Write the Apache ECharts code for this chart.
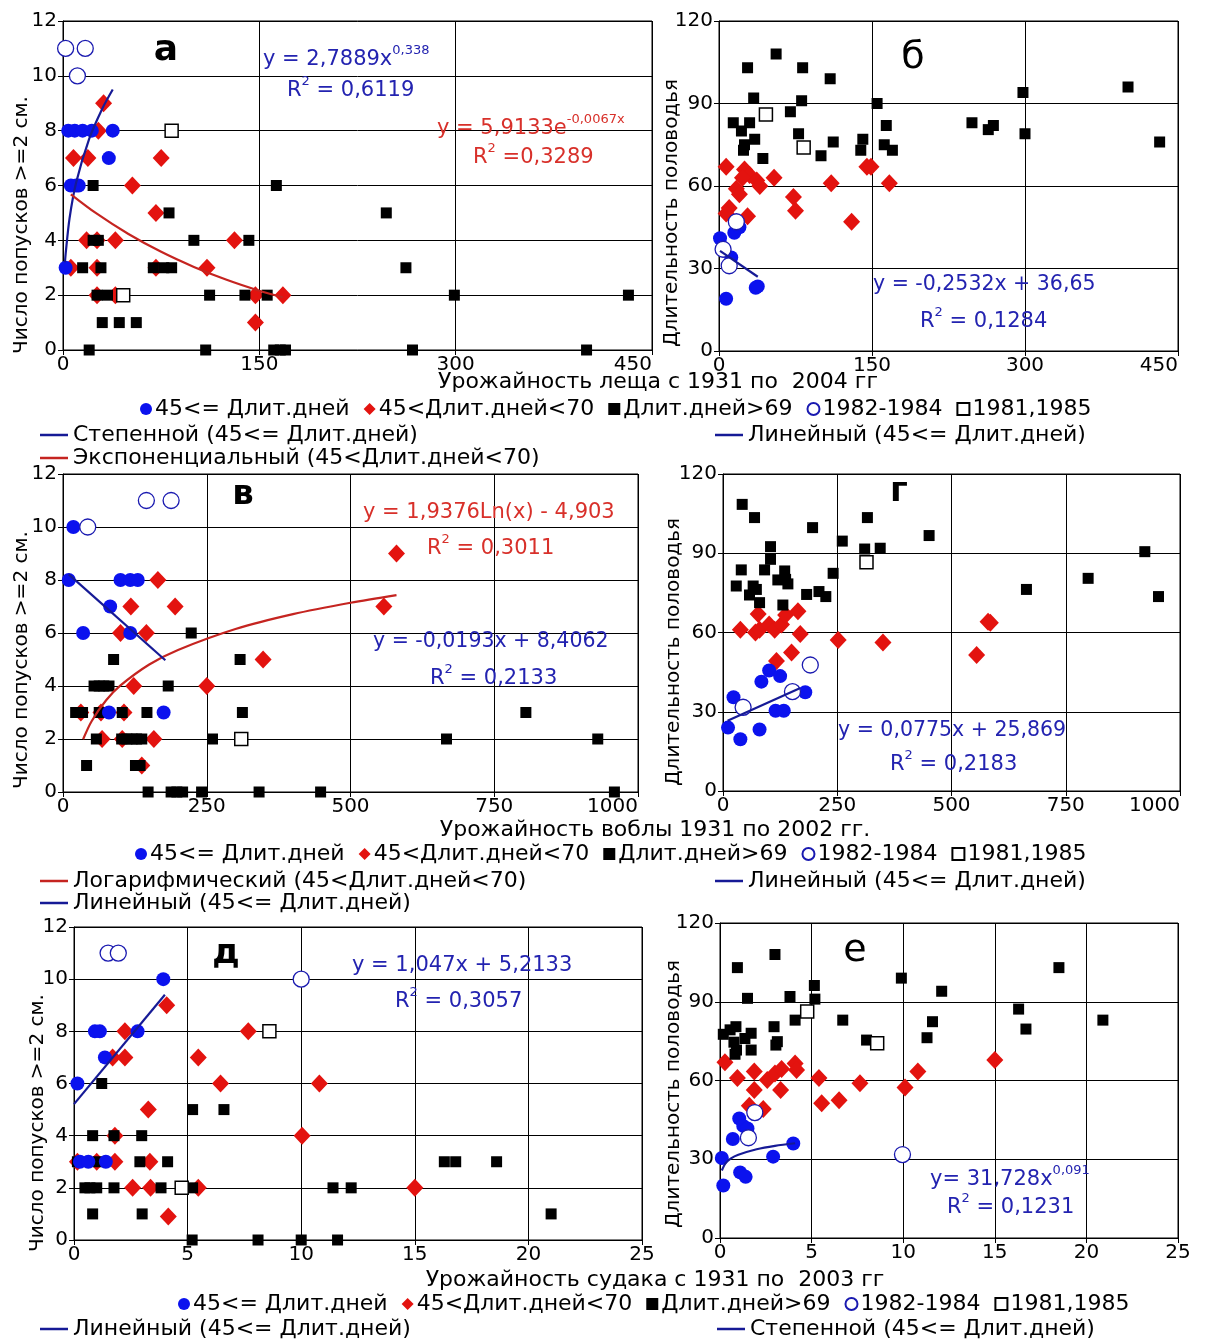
<!DOCTYPE html>
<html><head><meta charset="utf-8">
<script src="https://cdn.jsdelivr.net/npm/echarts@6/dist/echarts.min.js"></script>
<style>html,body{margin:0;padding:0;background:#fff;}#c{width:1207px;height:1342px;}</style>
</head><body><div id="c"></div><script>
// ---------- DATA ----------
// Panel а: лещ, число попусков
const a_blue = [[2,3],[4,8],[9,8],[15,8],[22,8],[38,8],[35,7],[6,6],[10,6],[12,6]];
const a_red = [[31,9],[27,8],[8,7],[19,7],[75,7],[53,6],[71,5],[18,4],[26,4],[40,4],[131,4],[6,3],[26,3],[71,3],[110,3],[26,2],[40,2],[147,2],[168,2],[147,1]];
const a_black = [[23,6],[163,6],[81,5],[247,5],[23,4],[27,4],[100,4],[142,4],[15,3],[29,3],[69,3],[77,3],[83,3],[262,3],[26,2],[34,2],[112,2],[139,2],[156,2],[299,2],[432,2],[30,1],[43,1],[56,1],[20,0],[109,0],[161,0],[166,0],[170,0],[267,0],[400,0]];
const a_open = [[2,11],[17,11],[11,10]];
const a_openSq = [[83,8],[46,2]];
const a_pow = [[1.5,3.2],[2,3.5],[5,4.8],[10,6.1],[20,7.7],[30,8.8],[38,9.5]];
const a_exp = [[6,5.68],[25,5.0],[50,4.23],[75,3.58],[100,3.03],[125,2.56],[150,2.16],[168,1.92]];
// Panel б: лещ, длительность половодья
const b_blue = [[1,41],[7,19],[12,34],[15,43],[20,45],[36,23],[38,23.5]];
const b_red = [[7,67],[25,66],[30,64],[37,62],[23,63],[17,59],[20,57],[40,60],[54,63],[73,56],[75,51],[110,61],[130,47],[145,67],[149,67],[167,61],[10,52],[7,50],[28,49]];
const b_black = [[28,103],[56,108],[82,103],[109,99],[34,92],[81,91],[70,87],[155,90],[14,83],[30,83],[164,82],[248,83],[264,80.5],[269,82],[298,94],[300,79],[401,96],[432,76],[22,80],[78,79],[35,77],[25,75],[24,73],[43,70],[112,76],[100,71],[141,77],[139,73],[162,75],[170,73]];
const b_open = [[17,47],[4,37],[10,31]];
const b_openSq = [[46,86],[83,74]];
const b_lin = [[1,36.4],[38,27.0]];
// Panel в: вобла, число попусков
const v_blue = [[18,10],[10,8],[100,8],[117,8],[130,8],[82,7],[35,6],[117,6],[80,3],[175,3]];
const v_red = [[580,9],[165,8],[118,7],[195,7],[558,7],[100,6],[145,6],[348,5],[123,4],[250,4],[31,3],[66,3],[106,3],[68,2],[103,2],[158,2],[137,1]];
const v_black = [[223,6],[88,5],[308,5],[54,4],[63,4],[71,4],[80,4],[183,4],[22,3],[34,3],[63,3],[103,3],[146,3],[312,3],[805,3],[58,2],[102,2],[111,2],[120,2],[128,2],[137,2],[260,2],[667,2],[930,2],[41,1],[126,1],[134,1],[148,0],[188,0],[198,0],[208,0],[241,0],[341,0],[448,0],[959,0]];
const v_open = [[43,10],[145,11],[188,11]];
const v_openSq = [[310,2]];
const v_log = [[35,1.99],[50,2.68],[75,3.46],[100,4.02],[150,4.81],[200,5.36],[300,6.15],[400,6.71],[500,7.14],[580,7.43]];
const v_lin = [[10,8.21],[178,4.97]];
// Panel г: вобла, длительность половодья
const g_blue = [[23,35.5],[11,24],[38,19.6],[80,23.3],[84,41.4],[101,45.6],[125,43.5],[115,30.4],[133,30.4],[180,37.4]];
const g_red = [[38,61],[77,67],[71,60],[80,61],[101,63],[113,61],[128,63],[137,66.6],[164,68],[169,59.4],[150,52.4],[117,49.2],[252,57.2],[350,56.2],[555,51.5],[580,64.1],[585,63.7]];
const g_black = [[42,108.5],[69,103.5],[196,99.7],[316,103.5],[261,94.6],[451,96.7],[104,92.5],[310,91.6],[344,91.9],[104,87.7],[40,83.7],[91,83.7],[135,83.3],[241,82.4],[29,77.6],[66,77.6],[73,76.3],[137,80.1],[142,78.4],[120,79.9],[58,74.2],[80,71.3],[131,70.4],[183,74.4],[210,75.5],[225,73.6],[664,76.3],[799,80.5],[923,90.6],[953,73.6]];
const g_open = [[44,31.7],[152,37.6],[191,47.7]];
const g_openSq = [[314,86.6]];
const g_lin = [[10,26.6],[168,38.9]];
// Panel д: судак, число попусков
const d_blue = [[3.93,10],[0.92,8],[1.14,8],[2.8,8],[1.36,7],[0.15,6],[0.26,3],[0.63,3],[1.4,3]];
const d_red = [[4.08,9],[2.24,8],[7.67,8],[1.7,7],[2.24,7],[5.47,7],[6.45,6],[10.8,6],[3.27,5],[1.8,4],[10.04,4],[0.15,3],[1.0,3],[1.8,3],[3.34,3],[2.58,2],[3.37,2],[5.47,2],[15,2],[4.15,0.9]];
const d_black = [[1.22,6],[5.22,5],[6.6,5],[0.82,4],[1.76,4],[2.98,4],[0.15,3],[1.07,3],[2.9,3],[4.12,3],[16.3,3],[16.8,3],[18.6,3],[0.48,2],[0.7,2],[1.0,2],[1.76,2],[3.83,2],[5.22,2],[11.4,2],[12.2,2],[0.82,1],[3.0,1],[21,1],[5.2,0],[8.1,0],[10,0],[11.6,0]];
const d_open = [[1.5,11],[1.95,11],[10,10]];
const d_openSq = [[8.6,8],[4.74,2]];
const d_lin = [[0,5.21],[4,9.4]];
// Panel е: судак, длительность половодья
const e_blue = [[0.18,20],[0.1,30.5],[0.7,37.7],[1.05,45.5],[1.27,42.7],[1.5,41.7],[1.1,25],[1.4,23.3],[2.9,31],[4,36]];
const e_red = [[0.27,67],[0.95,61],[1.87,63.4],[1.87,56.4],[2.58,60.2],[3,62.7],[3.36,64.4],[3.31,56.4],[4.1,66.5],[4.18,64],[5.4,61],[5.55,51.3],[6.5,52.5],[7.64,59],[10.1,57.3],[10.8,63.4],[15,67.8],[1.6,50.4],[2.36,49.1]];
const e_black = [[0.95,103],[3,108],[1.5,91.3],[3.82,92],[5.15,96.2],[5.18,91],[9.9,99],[12.1,94],[18.5,103],[16.3,87.2],[16.7,79.6],[20.9,83],[6.7,83],[4.1,83],[2.95,80.5],[11.6,82.4],[11.3,76.3],[8,75.4],[0.18,77.6],[0.55,79.3],[0.87,80.5],[0.76,74.6],[0.9,71.6],[0.82,70],[1.36,76],[1.7,78],[1.7,71.6],[3.05,73.5],[3.13,74.8]];
const e_open = [[1.9,47.8],[1.55,38.2],[9.96,31.8]];
const e_openSq = [[4.76,86.3],[8.58,74.2]];
const e_pow = [[0.1,25.7],[0.3,28.4],[0.6,30.3],[1,31.7],[2,33.8],[3,35.1],[4.1,36.1]];

// axis ranges / ticks
const xMax = [450,450,1000,1000,25,25];
const xInterval = [150,150,250,250,5,5];
const yMax = [12,120,12,120,12,120];
const yInterval = [2,30,2,30,2,30];
const yNames = ['Число попусков >=2 см.','Длительность половодья','Число попусков >=2 см.','Длительность половодья','Число попусков >=2 см.','Длительность половодья'];

// ---------- STYLE ----------
const FONT = "'DejaVu Sans', 'Liberation Sans', Arial, sans-serif";
const BLUE='#0b12ee', RED='#e3130f', NAVY='#161a96', TRED='#c52420', EQB='#2323b0', EQR='#d8302a';
const N_BLUE='45<= Длит.дней', N_RED='45<Длит.дней<70', N_BLACK='Длит.дней>69', N_OPEN='1982-1984', N_OSQ='1981,1985';
const N_POW='Степенной (45<= Длит.дней)', N_LIN='Линейный (45<= Длит.дней)', N_EXP='Экспоненциальный (45<Длит.дней<70)', N_LOG='Логарифмический (45<Длит.дней<70)';

const panels = [
  {blue:a_blue, red:a_red, black:a_black, open:a_open, osq:a_openSq, lines:[[N_POW,a_pow,NAVY],[N_EXP,a_exp,TRED]]},
  {blue:b_blue, red:b_red, black:b_black, open:b_open, osq:b_openSq, lines:[[N_LIN,b_lin,NAVY]]},
  {blue:v_blue, red:v_red, black:v_black, open:v_open, osq:v_openSq, lines:[[N_LOG,v_log,TRED],[N_LIN,v_lin,NAVY]]},
  {blue:g_blue, red:g_red, black:g_black, open:g_open, osq:g_openSq, lines:[[N_LIN,g_lin,NAVY]]},
  {blue:d_blue, red:d_red, black:d_black, open:d_open, osq:d_openSq, lines:[[N_LIN,d_lin,NAVY]]},
  {blue:e_blue, red:e_red, black:e_black, open:e_open, osq:e_openSq, lines:[[N_POW,e_pow,NAVY]]}
];

const grids = [
  {left:63, top:21, width:589, height:329},
  {left:719, top:21, width:459, height:330},
  {left:63, top:474, width:575, height:318},
  {left:723, top:474, width:457, height:317},
  {left:74, top:927, width:568, height:313},
  {left:720, top:923, width:458, height:315}
].map(g => Object.assign(g, {show:true, borderColor:'#000', borderWidth:1, backgroundColor:'#fff'}));
// centre of each rotated y-axis title (px)
const yTitlePos = [[22,225],[672,213],[22,660],[674,652],[38,1123],[674,1094]];

const xAxis = [], yAxis = [], series = [];
for (let i=0;i<6;i++){
  xAxis.push({gridIndex:i, type:'value', min:0, max:xMax[i], interval:xInterval[i],
    axisLine:{show:true, onZero:false, lineStyle:{color:'#000', width:1}},
    axisTick:{show:true, length:5, lineStyle:{color:'#000'}},
    axisLabel:{fontSize:20, color:'#000', fontFamily:FONT, margin:5, alignMaxLabel: i<4 ? 'right' : null, formatter: v => String(v)},
    splitLine:{show:true, lineStyle:{color:'#000', width:1}}});
  yAxis.push({gridIndex:i, type:'value', min:0, max:yMax[i], interval:yInterval[i],
    axisLine:{show:true, lineStyle:{color:'#000', width:1}},
    axisTick:{show:true, length:5, lineStyle:{color:'#000'}},
    axisLabel:{fontSize:20, color:'#000', fontFamily:FONT, margin:6, formatter: v => String(v)},
    splitLine:{show:true, lineStyle:{color:'#000', width:1}}});
  const p = panels[i];
  const base = {type:'scatter', xAxisIndex:i, yAxisIndex:i, clip:false, emphasis:{disabled:true}};
  series.push(Object.assign({}, base, {name:N_RED, data:p.red, symbol:'diamond', symbolSize:[17,18], itemStyle:{color:RED, opacity:1}, z:2}));
  series.push(Object.assign({}, base, {name:N_BLACK, data:p.black, symbol:'rect', symbolSize:11, itemStyle:{color:'#000', opacity:1}, z:3}));
  series.push(Object.assign({}, base, {name:N_BLUE, data:p.blue, symbol:'circle', symbolSize:14, itemStyle:{color:BLUE, opacity:1}, z:4}));
  series.push(Object.assign({}, base, {name:N_OSQ, data:p.osq, symbol:'rect', symbolSize:13, itemStyle:{color:'#fff', borderColor:'#000', borderWidth:1.5, opacity:1}, z:4}));
  series.push(Object.assign({}, base, {name:N_OPEN, data:p.open, symbol:'circle', symbolSize:16, itemStyle:{color:'#fff', borderColor:'#1a1ab0', borderWidth:1.3, opacity:1}, z:5}));
  p.lines.forEach(l => series.push({type:'line', name:l[0], xAxisIndex:i, yAxisIndex:i, data:l[1], showSymbol:false, symbol:'none', smooth:0.3,
    lineStyle:{color:l[2], width:2.2}, itemStyle:{color:l[2]}, z:6, emphasis:{disabled:true}}));
}

const ptNames = [N_BLUE, N_RED, N_BLACK, N_OPEN, N_OSQ];
function ptLegend(left, top){
  return {data: ptNames, left, top, padding:0, itemWidth:12, itemHeight:12, itemGap:14, selectedMode:false,
    textStyle:{fontSize:22, color:'#000', fontFamily:FONT, padding:[0,0,0,-2]}};
}
function lnLegend(name, left, top){
  return {data:[{name, icon:'rect'}], left, top, padding:0, itemWidth:28, itemHeight:2.5, itemGap:4, selectedMode:false,
    textStyle:{fontSize:22, color:'#000', fontFamily:FONT}};
}
const legend = [
  ptLegend(140, 398), lnLegend(N_POW, 40, 424), lnLegend(N_LIN, 715, 424), lnLegend(N_EXP, 40, 447),
  ptLegend(135, 843), lnLegend(N_LOG, 40, 870), lnLegend(N_LIN, 715, 870), lnLegend(N_LIN, 40, 892),
  ptLegend(178, 1293), lnLegend(N_LIN, 40, 1318), lnLegend(N_POW, 717, 1318)
];

function txt(x, y, text, color, font){
  return {type:'text', x, y, z:100, style:{text, fill:color, font, verticalAlign:'middle', align:'left'}};
}
function ctxt(x, y, text, color, font){
  return {type:'text', x, y, z:100, style:{text, fill:color, font, verticalAlign:'middle', align:'center'}};
}
const richStyles = c => ({m:{fontSize:21, fontFamily:FONT, fill:c, color:c, lineHeight:26, verticalAlign:'bottom'},
          s:{fontSize:13, fontFamily:FONT, fill:c, color:c, lineHeight:14, verticalAlign:'top'}});
function eqSup(x, y, main, sup, color){
  return {type:'text', x, y, z:100, style:{text:`{m|${main}}{s|${sup}}`, fill:color, verticalAlign:'middle', align:'left', rich:richStyles(color)}};
}
function r2(x, y, val, color){
  return {type:'text', x, y, z:100, style:{text:`{m|R}{s|2}{m|${val}}`, fill:color, verticalAlign:'middle', align:'left', rich:richStyles(color)}};
}
const F21 = `21px ${FONT}`, F22 = `22px ${FONT}`;
const graphic = [
  // panel letters
  ctxt(166, 51, 'а', '#000', `bold 36px ${FONT}`),
  ctxt(913, 58, 'б', '#000', `38px ${FONT}`),
  ctxt(243, 495, 'в', '#000', `bold 34px ${FONT}`),
  ctxt(899, 492, 'г', '#000', `bold 34px ${FONT}`),
  ctxt(226, 954, 'д', '#000', `bold 34px ${FONT}`),
  ctxt(855, 951, 'е', '#000', `38px ${FONT}`),
  // equations
  eqSup(263, 57, 'y = 2,7889x', '0,338', EQB),
  r2(287, 88, ' = 0,6119', EQB),
  eqSup(437, 126, 'y = 5,9133e', '-0,0067x', EQR),
  r2(473, 155, ' =0,3289', EQR),
  txt(873, 285, 'y = -0,2532x + 36,65', EQB, `20.5px ${FONT}`),
  r2(920, 319, ' = 0,1284', EQB),
  txt(363, 513, 'y = 1,9376Ln(x) - 4,903', EQR, F21),
  r2(427, 546, ' = 0,3011', EQR),
  txt(373, 642, 'y = -0,0193x + 8,4062', EQB, `20.5px ${FONT}`),
  r2(430, 676, ' = 0,2133', EQB),
  txt(838, 731, 'y = 0,0775x + 25,869', EQB, `20.5px ${FONT}`),
  r2(890, 762, ' = 0,2183', EQB),
  txt(352, 966, 'y = 1,047x + 5,2133', EQB, F21),
  r2(395, 999, ' = 0,3057', EQB),
  eqSup(930, 1177, 'y= 31,728x', '0,091', EQB),
  r2(947, 1205, ' = 0,1231', EQB),
  // x-axis titles
  ctxt(658, 382, 'Урожайность леща с 1931 по  2004 гг', '#000', F22),
  ctxt(655, 830, 'Урожайность воблы 1931 по 2002 гг.', '#000', F22),
  ctxt(655, 1280, 'Урожайность судака с 1931 по  2003 гг', '#000', F22)
];
// rotated y-axis titles
yTitlePos.forEach((p, i) => graphic.push({type:'text', x:p[0], y:p[1], rotation:Math.PI/2, z:100,
  style:{text:yNames[i], fill:'#000', font:`20px ${FONT}`, align:'center', verticalAlign:'middle'}}));

const chart = echarts.init(document.getElementById('c'), null, {renderer:'canvas'});
chart.setOption({animation:false, backgroundColor:'#fff', textStyle:{fontFamily:FONT}, grid:grids, xAxis, yAxis, series, legend, graphic});
</script></body></html>
